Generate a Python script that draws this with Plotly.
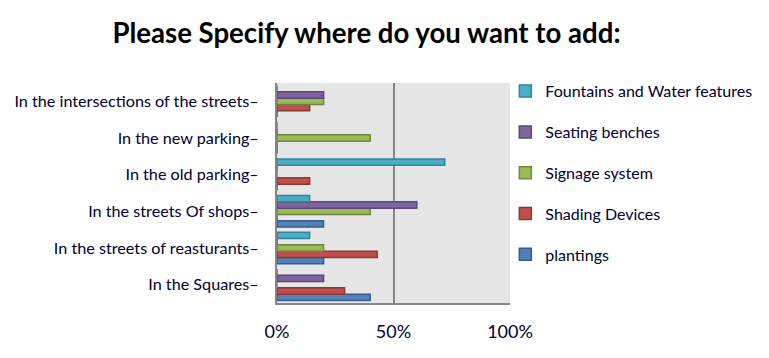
import plotly.graph_objects as go

categories = [
    "In the Squares–",
    "In the streets of reasturants–",
    "In the streets Of shops–",
    "In the old parking–",
    "In the new parking–",
    "In the intersections of the streets–",
]
plantings = [40, 20, 20, 0, 0, 0]
shading = [29, 43, 0, 14, 0, 14]
signage = [0, 20, 40, 0, 40, 20]
seating = [20, 0, 60, 0, 0, 20]
fountains = [0, 14, 14, 72, 0, 0]

series = [
    ("plantings", plantings, "#4F81BD", "#385D8A"),
    ("Shading Devices", shading, "#C0504D", "#8C3836"),
    ("Signage system", signage, "#9BBB59", "#71893F"),
    ("Seating benches", seating, "#8064A2", "#5C4776"),
    ("Fountains and Water features", fountains, "#4BACC6", "#31859C"),
]

fig = go.Figure()
for i, (name, vals, fill, line) in enumerate(series):
    fig.add_trace(go.Bar(
        y=categories, x=vals, name=name, orientation="h",
        marker=dict(color=fill, line=dict(color=line, width=1.5)),
        legendgroup=f"g{i}", legendrank=len(series) - i,
    ))

# page has an 8px body margin: figure spans page x 8..769, y 8..358
fig.update_layout(
    width=761, height=350,
    margin=dict(l=269, r=259, t=75, b=55, autoexpand=False),
    paper_bgcolor="white", plot_bgcolor="#E6E6E6",
    barmode="group", bargap=0.14, bargroupgap=0,
    title=dict(text="<b>Please Specify where do you want to add:</b>",
               x=0.471, xanchor="center", y=0.929, yanchor="middle",
               font=dict(family="Lato", size=27.6, color="black")),
    font=dict(family="Lato", color="black"),
    showlegend=True,
    legend=dict(x=0.98, xanchor="left", y=1.04, yanchor="top",
                traceorder="grouped", tracegroupgap=17, maxheight=400,
                font=dict(family="Lato", size=16, color="#000033"),
                itemwidth=30, bgcolor="rgba(0,0,0,0)"),
    xaxis=dict(range=[0, 100], tickvals=[0, 50, 100],
               ticktext=["0%", "50%", "100%"],
               showgrid=True, gridcolor="#868686", gridwidth=2,
               showline=True, linecolor="#868686", linewidth=2,
               zeroline=False, ticks="", ticklabelstandoff=11,
               tickfont=dict(family="Lato", size=18, color="#000033")),
    yaxis=dict(type="category", categoryorder="array", categoryarray=categories,
               showline=True, linecolor="#868686", linewidth=2,
               showgrid=False, ticks="", ticklabelstandoff=13,
               tickfont=dict(family="Lato", size=16.2, color="#000033")),
)

fig.write_html("out.html")
